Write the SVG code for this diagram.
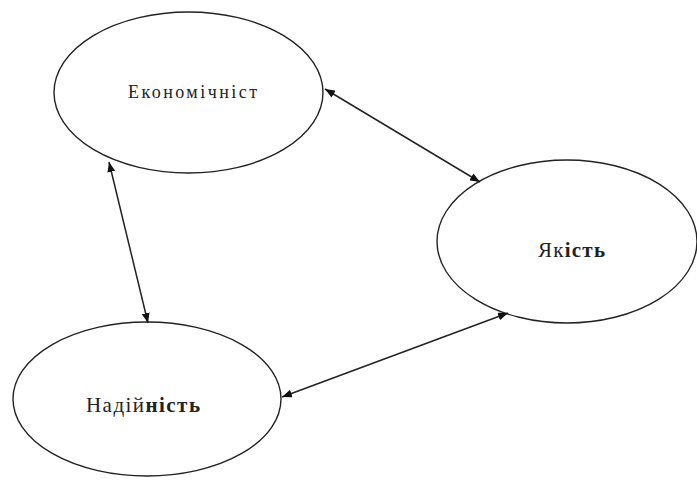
<svg xmlns="http://www.w3.org/2000/svg" width="697" height="481" viewBox="0 0 697 481">
<style>
.node ellipse{fill:#fff;stroke:#222;stroke-width:1.4}
.conn line{stroke:#222;stroke-width:1.5;marker-start:url(#ah);marker-end:url(#ah)}
.t{font-family:"Liberation Serif","Times New Roman",serif;fill:#222}
.b{font-weight:bold}
</style>
<defs>
<marker id="ah" viewBox="0 0 10 8" refX="10" refY="4" markerWidth="10" markerHeight="8" markerUnits="userSpaceOnUse" orient="auto-start-reverse">
<path d="M0,0 L10,4 L0,8 z" fill="#111"/>
</marker>
</defs>
<rect width="697" height="481" fill="#fff"/>
<g id="economy" class="node">
<ellipse cx="188.5" cy="92.5" rx="134.5" ry="80.5"/>
<text class="t" x="128" y="98" font-size="18" textLength="129" lengthAdjust="spacing">Економічніст</text>
</g>
<g id="quality" class="node">
<ellipse cx="567" cy="241.5" rx="130" ry="81.5"/>
<text class="t" x="538" y="257" font-size="21" textLength="67" lengthAdjust="spacing">Як<tspan class="b">ість</tspan></text>
</g>
<g id="reliability" class="node">
<ellipse cx="147" cy="399" rx="134" ry="77"/>
<text class="t" x="86" y="412" font-size="21" textLength="114" lengthAdjust="spacing">Надій<tspan class="b">ність</tspan></text>
</g>
<g id="connectors" class="conn">
<line x1="325" y1="89" x2="480" y2="182"/>
<line x1="109" y1="162" x2="148" y2="323"/>
<line x1="282" y1="397" x2="508" y2="313"/>
</g>
</svg>
